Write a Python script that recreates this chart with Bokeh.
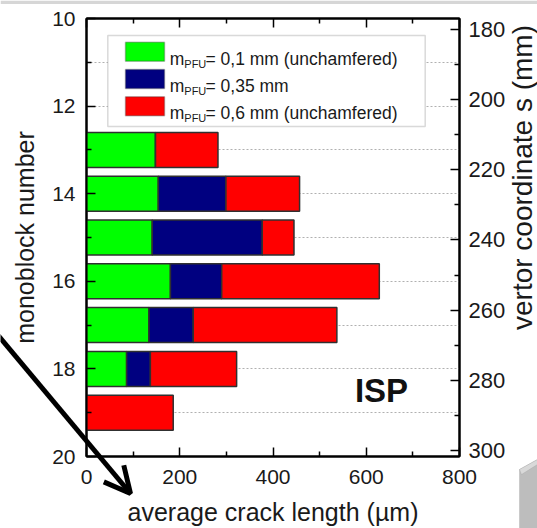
import math
from bokeh.plotting import figure
from bokeh.layouts import column
from bokeh.models import (Range1d, LinearAxis, FixedTicker, Label, BoxAnnotation,
                          PolyAnnotation, Arrow, OpenHead, ColumnDataSource)
from bokeh.embed import file_html
from bokeh.resources import INLINE

# ---------------- data ----------------
monoblock = [13, 14, 15, 16, 17, 18, 19]
green_len = [148, 154, 141, 180, 134, 86, 0]      # m_PFU = 0,1 mm (unchamfered)
blue_len = [0, 145, 236, 110, 95, 51, 0]          # m_PFU = 0,35 mm
red_len = [134, 158, 68, 338, 308, 185, 186]      # m_PFU = 0,6 mm (unchamfered)
legend_texts = ["= 0,1 mm (unchamfered)", "= 0,35 mm", "= 0,6 mm (unchamfered)"]
x_ticks = [0, 200, 400, 600, 800]
x_minor = [100, 300, 500, 700]
y_ticks = [10, 12, 14, 16, 18, 20]
y_minor = [11, 13, 15, 17, 19]
s_ticks = [180, 200, 220, 240, 260, 280, 300]
s_minor = [190, 210, 230, 250, 270, 290]

COLORS = ["#00ff00", "#000080", "#ff0000"]
FONT = "Liberation Sans"
W, H = 537, 528
ML, MR, MT, MB = 86, 78, 18, 72

p = figure(width=W, height=H, output_backend="svg", toolbar_location=None,
           x_range=Range1d(0, 800), y_range=Range1d(20, 10),
           min_border_left=ML, min_border_right=MR, min_border_top=MT, min_border_bottom=MB)
p.background_fill_color = "white"
p.border_fill_color = "white"
p.outline_line_color = "black"
p.outline_line_width = 2

# pixel helpers for decoration placement
fw = W - ML - MR
fh = H - MT - MB
def dx(px):
    return (px - ML) / fw * 800.0
def dy(py):
    return 10 + (py - MT) / fh * 10.0

src = ColumnDataSource(dict(monoblock=monoblock, g=green_len, b=blue_len, r=red_len))
p.hbar_stack(["g", "b", "r"], y="monoblock", height=0.8, color=COLORS,
             line_color="#303030", line_width=1.5, source=src)

# grid
p.xgrid.visible = False
p.ygrid.ticker = FixedTicker(ticks=list(range(10, 21)))
p.ygrid.grid_line_color = "#b0b0b0"
p.ygrid.grid_line_dash = "2 2"
p.ygrid.grid_line_width = 1

def style_axis(ax, fs, standoff):
    ax.axis_line_color = "black"
    ax.axis_line_width = 2
    ax.major_tick_in = 9
    ax.major_tick_out = 0
    ax.minor_tick_in = 5
    ax.minor_tick_out = 0
    ax.major_tick_line_width = 1.5
    ax.minor_tick_line_width = 1.5
    ax.major_tick_line_color = "black"
    ax.minor_tick_line_color = "black"
    ax.major_label_text_font = FONT
    ax.major_label_text_font_size = fs
    ax.major_label_text_color = "#1a1a1a"
    ax.major_label_standoff = standoff
    ax.axis_label_text_font = FONT
    ax.axis_label_text_font_style = "normal"
    ax.axis_label_text_color = "#1a1a1a"

# left axis
yl = p.yaxis[0]
yl.ticker = FixedTicker(ticks=y_ticks, minor_ticks=y_minor)
style_axis(yl, "21px", 11)
yl.axis_label = "monoblock number"
yl.axis_label_text_font_size = "25px"
yl.axis_label_standoff = 10

# bottom axis
xb = p.xaxis[0]
xb.ticker = FixedTicker(ticks=x_ticks, minor_ticks=x_minor)
style_axis(xb, "21px", 13)
xb.axis_label = "average crack length (µm)"
xb.axis_label_text_font_size = "25px"
xb.axis_label_standoff = 11

# top axis (ticks only)
xt = LinearAxis(ticker=FixedTicker(ticks=x_ticks, minor_ticks=x_minor))
style_axis(xt, "0px", 0)
xt.major_label_text_alpha = 0
p.add_layout(xt, "above")

# right axis: vertor coordinate s (its title is drawn on the overlay below)
p.extra_y_ranges = {"s": Range1d(301.7, 176.9)}
yr = LinearAxis(y_range_name="s", ticker=FixedTicker(ticks=s_ticks, minor_ticks=s_minor))
style_axis(yr, "22px", 9)
p.add_layout(yr, "right")

# ISP tag
p.add_layout(Label(x=dx(381), y=dy(390), text="ISP", text_font=FONT, text_font_size="33px",
                   text_font_style="bold", text_color="#111111",
                   text_align="center", text_baseline="middle"))

# legend (manual, for the subscript)
p.add_layout(BoxAnnotation(left=dx(107.3), right=dx(424.7), top=dy(35), bottom=dy(126),
                           fill_color="white", fill_alpha=1, line_color="#808080",
                           line_width=1.5, level="annotation"))
row_c = [51.3, 78.5, 105.7]
for i in range(3):
    c = row_c[i]
    p.add_layout(BoxAnnotation(left=dx(125), right=dx(164), top=dy(c - 9.5), bottom=dy(c + 9.5),
                               fill_color=COLORS[i], fill_alpha=1, line_color="#303030",
                               line_width=1.5, level="annotation"))
    p.add_layout(Label(x=dx(169.3), y=dy(c + 7), text="m", text_font=FONT,
                       text_font_size="17.5px", text_color="#1a1a1a",
                       text_baseline="alphabetic"))
    p.add_layout(Label(x=dx(169.3), y=dy(c + 12), x_offset=14.5, text="PFU", text_font=FONT,
                       text_font_size="11px", text_color="#1a1a1a",
                       text_baseline="alphabetic"))
    p.add_layout(Label(x=dx(169.3), y=dy(c + 7), x_offset=35.7, text=legend_texts[i],
                       text_font=FONT, text_font_size="17.5px", text_color="#1a1a1a",
                       text_baseline="alphabetic"))

# transparent overlay figure (pulled up over the chart), in canvas pixels, carrying the
# right-hand axis title and the decorations that lie outside the chart's plot frame
pa = figure(width=W, height=H, output_backend="svg", toolbar_location=None,
            x_range=Range1d(0, W), y_range=Range1d(H, 0),
            x_axis_location=None, y_axis_location=None,
            min_border=0, min_border_left=0, min_border_right=0,
            min_border_top=0, min_border_bottom=0, margin=(-H, 0, 0, 0))
for fig in (p, pa):
    try:
        fig.frame_align = False
    except Exception:
        pass
pa.grid.visible = False
pa.outline_line_color = None
pa.background_fill_alpha = 0
pa.border_fill_alpha = 0
pa.add_layout(Label(x=522, y=177, text="vertor coordinate s (mm)", angle=math.pi / 2,
                    text_font=FONT, text_font_size="28px", text_color="#1a1a1a",
                    text_align="center", text_baseline="middle"))
pa.add_layout(Arrow(end=OpenHead(size=26, line_width=5, line_color="black"),
                    x_start=-4, y_start=333, x_end=130, y_end=493,
                    line_width=5, line_color="black"))
# grey strip along the top edge and the grey block in the lower-right corner
pa.add_layout(BoxAnnotation(left=0, right=W, top=0, bottom=3.5, fill_color="#d6d6d6",
                            fill_alpha=1, line_alpha=0))
pa.add_layout(PolyAnnotation(xs=[519, 537, 537, 519], ys=[469, 459, 528, 528],
                             fill_color="#bdbdbd", fill_alpha=1, line_color="#9a9a9a",
                             line_width=1))
pa.add_layout(PolyAnnotation(xs=[519, 537, 537, 521], ys=[469, 459, 464, 474],
                             fill_color="#d9d9d9", fill_alpha=1, line_color="#9a9a9a",
                             line_width=1))

layout = column(p, pa, spacing=0)
open("out.html", "w").write(file_html(layout, INLINE))
